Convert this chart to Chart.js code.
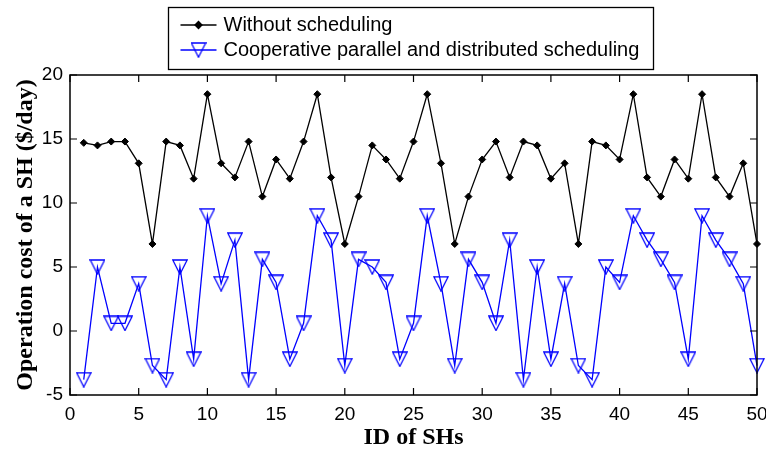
<!DOCTYPE html>
<html>
<head>
<meta charset="utf-8">
<title>Operation cost of SHs</title>
<script src="https://cdn.jsdelivr.net/npm/chart.js@4.4.1/dist/chart.umd.min.js"></script>
<style>
  html, body { margin: 0; padding: 0; background: #fff; }
  #wrap { width: 766px; height: 453px; }
</style>
</head>
<body>
<div id="wrap"><canvas id="costChart" width="766" height="453"></canvas></div>
<script>
// SH ids along the x axis
const shIds = [1, 2, 3, 4, 5, 6, 7, 8, 9, 10,
  11, 12, 13, 14, 15, 16, 17, 18, 19, 20,
  21, 22, 23, 24, 25, 26, 27, 28, 29, 30,
  31, 32, 33, 34, 35, 36, 37, 38, 39, 40,
  41, 42, 43, 44, 45, 46, 47, 48, 49, 50];

// daily operation cost per SH ($/day)
const costWithout = [14.7, 14.5, 14.8, 14.8, 13.1, 6.8, 14.8, 14.5, 11.9, 18.5,
  13.1, 12.0, 14.8, 10.5, 13.4, 11.9, 14.8, 18.5, 12.0, 6.8,
  10.5, 14.5, 13.4, 11.9, 14.8, 18.5, 13.1, 6.8, 10.5, 13.4,
  14.8, 12.0, 14.8, 14.5, 11.9, 13.1, 6.8, 14.8, 14.5, 13.4,
  18.5, 12.0, 10.5, 13.4, 11.9, 18.5, 12.0, 10.5, 13.1, 6.8];

const costCooperative = [-3.8, 5.0, 0.6, 0.6, 3.7, -2.7, -3.8, 5.0, -2.2, 9.0,
  3.7, 7.1, -3.8, 5.6, 3.8, -2.2, 0.6, 9.0, 7.1, -2.7,
  5.6, 5.0, 3.8, -2.2, 0.6, 9.0, 3.7, -2.7, 5.6, 3.8,
  0.6, 7.1, -3.8, 5.0, -2.2, 3.7, -2.7, -3.8, 5.0, 3.8,
  9.0, 7.1, 5.6, 3.8, -2.2, 9.0, 7.1, 5.6, 3.7, -2.7];

const seriesNames = ['Without scheduling', 'Cooperative parallel and distributed scheduling'];

const xTicks = [0, 5, 10, 15, 20, 25, 30, 35, 40, 45, 50];
const yTicks = [-5, 0, 5, 10, 15, 20];

// hollow downward triangle marker, centred in its own box
function makeTriangle(size, color) {
  const c = document.createElement('canvas');
  c.width = size; c.height = size;
  const g = c.getContext('2d');
  g.strokeStyle = color;
  g.lineWidth = 1.3;
  g.beginPath();
  g.moveTo(0.8, 1);
  g.lineTo(size - 0.8, 1);
  g.lineTo(size / 2, size - 0.8);
  g.closePath();
  g.stroke();
  return c;
}
const triDown = makeTriangle(16, '#0000ff');

const toPoints = (ys) => shIds.map((id, i) => ({ x: id, y: ys[i] }));

// axes box with inward ticks on all four sides
const boxAndTicks = {
  id: 'boxAndTicks',
  afterDatasetsDraw(chart) {
    const { ctx, chartArea: a, scales: { x, y } } = chart;
    const len = 7;
    ctx.save();
    ctx.strokeStyle = '#000';
    ctx.lineWidth = 1.5;
    ctx.strokeRect(a.left, a.top, a.right - a.left, a.bottom - a.top);
    ctx.lineWidth = 1.2;
    ctx.beginPath();
    xTicks.forEach(v => {
      const px = x.getPixelForValue(v);
      ctx.moveTo(px, a.bottom); ctx.lineTo(px, a.bottom - len);
      ctx.moveTo(px, a.top); ctx.lineTo(px, a.top + len);
    });
    yTicks.forEach(v => {
      const py = y.getPixelForValue(v);
      ctx.moveTo(a.left, py); ctx.lineTo(a.left + len, py);
      ctx.moveTo(a.right, py); ctx.lineTo(a.right - len, py);
    });
    ctx.stroke();
    ctx.restore();
  }
};

// boxed legend above the plot
const boxLegend = {
  id: 'boxLegend',
  afterDraw(chart) {
    const ctx = chart.ctx;
    const left = 168.5, top = 7.5, w = 485, h = 62;
    ctx.save();
    ctx.fillStyle = '#fff';
    ctx.fillRect(left, top, w, h);
    ctx.strokeStyle = '#000';
    ctx.lineWidth = 1.3;
    ctx.strokeRect(left, top, w, h);
    ctx.font = "20px 'Liberation Sans', Arial, sans-serif";
    ctx.textBaseline = 'middle';
    chart.data.datasets.forEach((ds, i) => {
      const yy = top + 17.5 + i * 25;
      ctx.strokeStyle = ds.borderColor;
      ctx.lineWidth = ds.borderWidth;
      ctx.beginPath();
      ctx.moveTo(left + 12, yy);
      ctx.lineTo(left + 48, yy);
      ctx.stroke();
      ctx.fillStyle = ds.pointBackgroundColor || ds.borderColor;
      Chart.helpers.drawPoint(ctx, {
        pointStyle: ds.pointStyle,
        radius: ds.pointRadius,
        rotation: 0,
        borderWidth: ds.pointBorderWidth || 1
      }, left + 30, yy);
      ctx.fillStyle = '#000';
      ctx.fillText(ds.label, left + 55, yy);
    });
    ctx.restore();
  }
};

const tickFont = { family: "'Liberation Sans', Arial, sans-serif", size: 19 };
const titleFont = { family: "'Liberation Serif', 'Times New Roman', serif", size: 24, weight: 'bold' };

new Chart(document.getElementById('costChart'), {
  type: 'line',
  data: {
    datasets: [
      {
        label: seriesNames[0],
        data: toPoints(costWithout),
        borderColor: '#000',
        backgroundColor: '#000',
        borderWidth: 1.3,
        pointStyle: 'rectRot',
        pointRadius: 3.5,
        pointBackgroundColor: '#000',
        pointBorderColor: '#000',
        pointBorderWidth: 1,
        fill: false,
        tension: 0,
        clip: false
      },
      {
        label: seriesNames[1],
        data: toPoints(costCooperative),
        borderColor: '#0000ff',
        backgroundColor: 'rgba(0,0,0,0)',
        borderWidth: 1.3,
        pointStyle: triDown,
        pointRadius: 8,
        pointBackgroundColor: 'rgba(0,0,0,0)',
        pointBorderColor: '#0000ff',
        pointBorderWidth: 1,
        fill: false,
        tension: 0,
        clip: false
      }
    ]
  },
  options: {
    responsive: false,
    animation: false,
    devicePixelRatio: 1,
    layout: { padding: { top: 75, right: 9, bottom: 0, left: 0 } },
    plugins: {
      legend: { display: false },
      tooltip: { enabled: false }
    },
    scales: {
      x: {
        type: 'linear',
        min: 0,
        max: 50,
        afterBuildTicks: s => { s.ticks = xTicks.map(v => ({ value: v })); },
        afterFit: s => { s.height = 58; s.paddingLeft = 0; s.paddingRight = 0; },
        grid: { display: false, drawTicks: false },
        border: { display: false },
        ticks: { padding: 8, color: '#000', font: tickFont, maxRotation: 0, autoSkip: false },
        title: { display: true, text: 'ID of SHs', color: '#000', font: titleFont, padding: { top: 0, bottom: 1 } }
      },
      y: {
        type: 'linear',
        min: -5,
        max: 20,
        afterBuildTicks: s => { s.ticks = yTicks.map(v => ({ value: v })); },
        afterFit: s => { s.width = 70; },
        grid: { display: false, drawTicks: false },
        border: { display: false },
        ticks: { padding: 7, color: '#000', font: tickFont, autoSkip: false },
        title: { display: true, text: 'Operation cost of a SH ($/day)', color: '#000', font: titleFont, padding: { top: 11, bottom: 0 } }
      }
    }
  },
  plugins: [boxAndTicks, boxLegend]
});
</script>
</body>
</html>
